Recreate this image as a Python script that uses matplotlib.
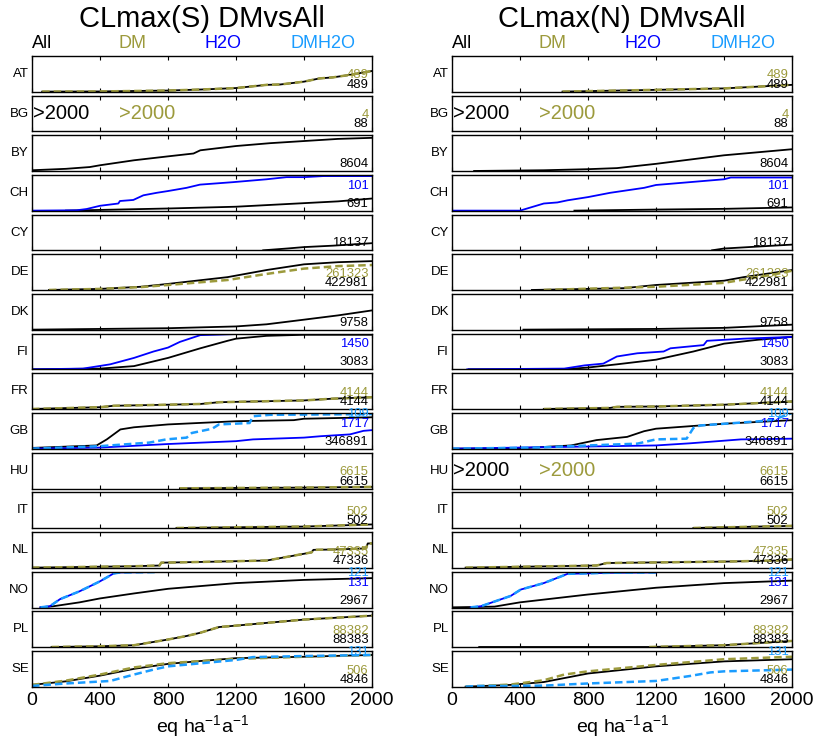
"""CLmax cumulative curves, DM vs All, per country (S and N)."""

import matplotlib
matplotlib.use("Agg")
import matplotlib.pyplot as plt

plt.rcParams["font.family"] = ["Liberation Sans", "DejaVu Sans"]
plt.rcParams["mathtext.default"] = "regular"

COUNTRIES = ["AT", "BG", "BY", "CH", "CY", "DE", "DK", "FI",
             "FR", "GB", "HU", "IT", "NL", "NO", "PL", "SE"]
PANEL_TITLES = ["CLmax(S) DMvsAll", "CLmax(N) DMvsAll"]
SERIES_NAMES = ["All", "DM", "H2O", "DMH2O"]
XTICKS = [0, 400, 800, 1200, 1600, 2000]
XLABEL = "eq ha$^{-1}$a$^{-1}$"

# numbers of ecosystem points per country (same in both panels)
COUNT_ALL = {"AT": 489, "BG": 88, "BY": 8604, "CH": 691, "CY": 18137,
             "DE": 422981, "DK": 9758, "FI": 3083, "FR": 4144,
             "GB": 346891, "HU": 6615, "IT": 502, "NL": 47336,
             "NO": 2967, "PL": 88383, "SE": 4846}
COUNT_DM = {"AT": 489, "BG": 4, "DE": 261323, "FR": 4144, "HU": 6615,
            "IT": 502, "NL": 47335, "PL": 88382, "SE": 506}
COUNT_H2O = {"CH": 101, "FI": 1450, "GB": 1717, "NO": 131}
COUNT_DMH2O = {"GB": 109, "NO": 121, "SE": 131}

# countries whose curves lie entirely above 2000
ABOVE_2000_S = ["BG"]
ABOVE_2000_N = ["BG", "HU"]

# cumulative fraction curves (x = CLmax, y = fraction)
S_ALL = {
    "AT": ([60, 400, 800, 1000, 1200, 1380, 1460, 1600, 1690, 1770, 1870, 2000],
           [0, 0.005, 0.03, 0.06, 0.1, 0.19, 0.2, 0.28, 0.37, 0.4, 0.47, 0.58]),
    "BY": ([0, 200, 340, 400, 600, 800, 950, 990, 1200, 1400, 1600, 1800, 2000],
           [0.02, 0.06, 0.11, 0.16, 0.3, 0.41, 0.49, 0.58, 0.7, 0.78, 0.84, 0.9, 0.93]),
    "CH": ([200, 400, 800, 1200, 1600, 1800, 2000],
           [0, 0.02, 0.06, 0.11, 0.21, 0.26, 0.34]),
    "CY": ([1360, 1500, 1600, 1770, 2000], [0, 0.05, 0.09, 0.13, 0.2]),
    "DE": ([100, 400, 640, 800, 910, 1150, 1380, 1600, 1800, 2000],
           [0, 0.03, 0.09, 0.17, 0.23, 0.36, 0.56, 0.72, 0.78, 0.81]),
    "DK": ([0, 800, 1200, 1380, 1600, 1800, 2000],
           [0, 0.04, 0.09, 0.15, 0.28, 0.4, 0.54]),
    "FI": ([0, 400, 600, 800, 990, 1150, 1200, 1380, 1600, 2000],
           [0, 0.02, 0.09, 0.32, 0.59, 0.8, 0.86, 0.94, 0.97, 0.97]),
    "FR": ([0, 400, 480, 800, 990, 1100, 1600, 1770, 2000],
           [0, 0.05, 0.09, 0.12, 0.14, 0.19, 0.24, 0.29, 0.33]),
    "GB": ([0, 380, 440, 520, 600, 800, 1200, 1540, 1600, 2000],
           [0.02, 0.09, 0.26, 0.54, 0.6, 0.68, 0.77, 0.8, 0.84, 0.88]),
    "HU": ([870, 1200, 1600, 2000], [0, 0.01, 0.02, 0.04]),
    "IT": ([850, 1200, 1600, 2000], [0, 0.02, 0.04, 0.1]),
    "NL": ([0, 600, 750, 760, 990, 1380, 1520, 1600, 1645, 1655, 1770, 1965, 1975, 2000],
           [0, 0.04, 0.06, 0.14, 0.16, 0.2, 0.32, 0.39, 0.43, 0.5, 0.51, 0.54, 0.68, 0.68]),
    "NO": ([50, 125, 280, 400, 600, 800, 1200, 1600, 2000],
           [0, 0.03, 0.14, 0.25, 0.39, 0.52, 0.68, 0.77, 0.82]),
    "PL": ([115, 400, 600, 800, 910, 990, 1100, 1200, 1600, 2000],
           [0, 0.02, 0.05, 0.21, 0.31, 0.4, 0.56, 0.6, 0.77, 0.88]),
    "SE": ([0, 200, 400, 600, 800, 990, 1200, 1600, 2000],
           [0.05, 0.15, 0.31, 0.5, 0.64, 0.72, 0.8, 0.84, 0.89]),
}
S_DM = {
    "AT": S_ALL["AT"],
    "DE": ([100, 400, 640, 800, 1150, 1380, 1600, 1800, 2000],
           [0, 0.03, 0.08, 0.14, 0.28, 0.45, 0.6, 0.67, 0.7]),
    "FR": S_ALL["FR"],
    "HU": S_ALL["HU"],
    "IT": S_ALL["IT"],
    "NL": S_ALL["NL"],
    "PL": S_ALL["PL"],
    "SE": ([0, 200, 400, 600, 800, 1200, 1600, 2000],
           [0.05, 0.17, 0.34, 0.54, 0.66, 0.78, 0.84, 0.89]),
}
S_H2O = {
    "CH": ([0, 263, 321, 400, 508, 517, 596, 655, 733, 800, 909, 988, 1184, 1282, 1380, 1497, 1600, 1713, 2000],
           [0, 0.01, 0.045, 0.136, 0.2, 0.27, 0.3, 0.43, 0.5, 0.55, 0.64, 0.73, 0.8, 0.84, 0.88, 0.94, 0.94, 0.97, 0.97]),
    "FI": ([0, 300, 460, 600, 715, 800, 870, 990, 1070, 1200, 2000],
           [0, 0.02, 0.14, 0.32, 0.5, 0.61, 0.77, 0.96, 0.97, 0.99, 0.99]),
    "GB": ([0, 400, 800, 1200, 1300, 1600, 1700, 1870, 1950, 2000],
           [0, 0.03, 0.13, 0.21, 0.26, 0.31, 0.35, 0.4, 0.5, 0.52]),
    "NO": ([50, 105, 165, 280, 400, 480, 520, 735],
           [0, 0.03, 0.23, 0.45, 0.73, 0.95, 0.98, 0.99]),
}
S_DMH2O = {
    "GB": ([0, 400, 690, 790, 910, 940, 1060, 1100, 1280, 1300, 1400, 2000],
           [0, 0.07, 0.17, 0.26, 0.31, 0.44, 0.56, 0.68, 0.72, 0.91, 0.95, 0.97]),
    "NO": S_H2O["NO"],
    "SE": ([0, 200, 460, 600, 715, 800, 1200, 1300, 1600, 2000],
           [0.02, 0.09, 0.16, 0.34, 0.48, 0.57, 0.75, 0.83, 0.86, 0.89]),
}

N_ALL = {
    "AT": ([650, 1200, 1600, 2000], [0, 0.05, 0.09, 0.19]),
    "BY": ([130, 540, 800, 970, 1200, 1600, 2000],
           [0, 0.02, 0.05, 0.08, 0.2, 0.44, 0.61]),
    "CH": ([720, 1200, 1600, 2000], [0, 0.03, 0.05, 0.09]),
    "CY": ([1530, 1600, 2000], [0, 0.05, 0.16]),
    "DE": ([470, 800, 1010, 1200, 1600, 1715, 2000],
           [0, 0.03, 0.05, 0.14, 0.26, 0.36, 0.56]),
    "DK": ([420, 1200, 1600, 2000], [0, 0.02, 0.05, 0.14]),
    "FI": ([100, 660, 800, 970, 1200, 1420, 1600, 1800, 2000],
           [0, 0, 0.05, 0.14, 0.27, 0.5, 0.72, 0.83, 0.91]),
    "FR": ([540, 930, 970, 1200, 1600, 2000], [0, 0.03, 0.06, 0.07, 0.12, 0.21]),
    "GB": ([0, 400, 700, 850, 1030, 1130, 1200, 1600, 2000],
           [0, 0.01, 0.09, 0.24, 0.33, 0.49, 0.56, 0.7, 0.8]),
    "IT": ([1420, 2000], [0, 0.06]),
    "NL": ([80, 850, 910, 1245, 1600, 1910, 2000],
           [0, 0.06, 0.13, 0.15, 0.17, 0.2, 0.23]),
    "NO": ([0, 250, 400, 600, 800, 1200, 1600, 2000],
           [0, 0.02, 0.14, 0.25, 0.36, 0.55, 0.68, 0.75]),
    "PL": ([160, 1160, 1600, 2000], [0, 0, 0.05, 0.17]),
    "SE": ([80, 345, 540, 800, 1200, 1600, 2000],
           [0, 0.05, 0.13, 0.37, 0.57, 0.71, 0.77]),
}
N_DM = {
    "AT": N_ALL["AT"],
    "DE": ([540, 1200, 1600, 1910, 2000], [0, 0.09, 0.2, 0.45, 0.54]),
    "FR": N_ALL["FR"],
    "IT": N_ALL["IT"],
    "NL": N_ALL["NL"],
    "PL": ([1160, 1600, 2000], [0, 0.05, 0.17]),
    "SE": ([80, 345, 540, 660, 800, 1200, 1600, 2000],
           [0, 0.06, 0.18, 0.34, 0.43, 0.61, 0.77, 0.84]),
}
N_H2O = {
    "CH": ([0, 400, 540, 620, 680, 800, 930, 1130, 1200, 1600, 1640, 2000],
           [0, 0, 0.2, 0.23, 0.29, 0.38, 0.5, 0.64, 0.72, 0.88, 0.93, 0.93]),
    "FI": ([90, 660, 780, 890, 970, 1090, 1245, 1285, 1480, 1500, 1715, 2000],
           [0, 0.02, 0.11, 0.16, 0.36, 0.45, 0.5, 0.59, 0.68, 0.8, 0.86, 0.91]),
    "GB": ([0, 800, 1200, 1400, 1700, 2000], [0, 0.06, 0.09, 0.15, 0.26, 0.28]),
    "NO": ([110, 170, 345, 405, 540, 680, 930, 1200],
           [0, 0.03, 0.32, 0.5, 0.68, 0.94, 0.97, 0.98]),
}
N_DMH2O = {
    "GB": ([0, 500, 800, 1090, 1200, 1380, 1420, 1460, 1810, 1890, 2000],
           [0, 0.03, 0.09, 0.14, 0.26, 0.28, 0.58, 0.65, 0.77, 0.81, 1.0]),
    "NO": N_H2O["NO"],
    "SE": ([80, 150, 345, 540, 800, 1200, 1400, 1520, 1600, 2000],
           [0, 0.02, 0.02, 0.03, 0.09, 0.16, 0.3, 0.4, 0.43, 0.48]),
}

# styles
OLIVE = "#9c9a3c"
LIGHTBLUE = "#1a9cff"
COLORS = {"All": "black", "DM": OLIVE, "H2O": "#0000ff", "DMH2O": LIGHTBLUE}
COUNTS = {"All": COUNT_ALL, "DM": COUNT_DM, "H2O": COUNT_H2O, "DMH2O": COUNT_DMH2O}
SLOT_PX = {"All": 7.0, "DM": 16.3, "H2O": 25.0, "DMH2O": 34.5}

W, H = 814, 738
AX_W = 340
AX_H = 35.8
ROW_PITCH = 39.67
TOP0 = 56

fig = plt.figure(figsize=(W / 100, H / 100), dpi=100)

panels = [
    (32, PANEL_TITLES[0], [S_ALL, S_H2O, S_DM, S_DMH2O], ABOVE_2000_S),
    (452, PANEL_TITLES[1], [N_ALL, N_H2O, N_DM, N_DMH2O], ABOVE_2000_N),
]
draw_order = ["All", "H2O", "DM", "DMH2O"]

for left_px, title, curve_sets, above in panels:
    # title and colour legend row
    fig.text((left_px + 170) / W, 1 - 19 / H, title, ha="center", va="center",
             fontsize=21)
    for name, xc, ha in [("All", left_px, "left"), ("DM", left_px + 100.5, "center"),
                         ("H2O", left_px + 190.5, "center"),
                         ("DMH2O", left_px + 291.5, "center")]:
        fig.text(xc / W, 1 - 43 / H, name, color=COLORS[name], ha=ha,
                 va="center", fontsize=13)

    for i, c in enumerate(COUNTRIES):
        top = TOP0 + ROW_PITCH * i
        ax = fig.add_axes([left_px / W, 1 - (top + AX_H) / H, AX_W / W, AX_H / H])

        for name, curves in zip(draw_order, curve_sets):
            if c not in curves:
                continue
            xs, ys = curves[c]
            if name in ("DM", "DMH2O"):
                ax.plot(xs, ys, color=COLORS[name], lw=1.8, ls="--",
                        dashes=(3, 1.6))
            else:
                ax.plot(xs, ys, color=COLORS[name], lw=1.3)

        if c in above:
            ax.text(0.004, 0.5, ">2000", transform=ax.transAxes, color="black",
                    ha="left", va="center", fontsize=14.5)
            ax.text(0.255, 0.5, ">2000", transform=ax.transAxes, color=OLIVE,
                    ha="left", va="center", fontsize=14.5)

        for name in SERIES_NAMES:
            if c in COUNTS[name]:
                ax.text(0.99, SLOT_PX[name] / AX_H, str(COUNTS[name][c]),
                        transform=ax.transAxes, color=COLORS[name],
                        ha="right", va="center", fontsize=9.4)

        ax.text(-0.009, 0.5, c, transform=ax.transAxes, ha="right",
                va="center", fontsize=9.5)

        ax.set_xlim(0, 2000)
        ax.set_ylim(-0.005, 1.0)
        ax.set_yticks([])
        ax.set_xticks(XTICKS)
        ax.tick_params(axis="x", direction="in", top=True, bottom=True,
                       length=3, width=0.8, labelsize=14, pad=4)
        if i < len(COUNTRIES) - 1:
            ax.tick_params(axis="x", labelbottom=False)
        else:
            ax.set_xlabel(XLABEL, fontsize=14, labelpad=2.5)
        for sp in ax.spines.values():
            sp.set_linewidth(1.0)

fig.savefig("out.png", dpi=100)
